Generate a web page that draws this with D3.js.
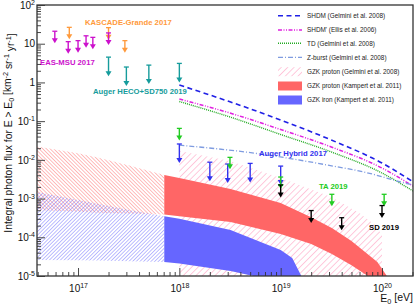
<!DOCTYPE html>
<html>
<head>
<meta charset="utf-8">
<script src="https://cdn.jsdelivr.net/npm/d3@7"></script>
<style>
body { margin: 0; background: #fff; }
text { font-family: "Liberation Sans", Arial, sans-serif; }
</style>
</head>
<body>
<div id="chart"></div>
<script>
// ---- upper limits (energy in eV, flux limit in km^-2 sr^-1 yr^-1)
const easE = [5.9e16, 8e16, 1e17, 1.2e17, 1.4e17, 2e17];
const easF = [21, 11.3, 12, 16, 14.6, 19];
const kgE = [8.2e16, 2e17, 2.9e17];
const kgF = [26.5, 26, 12];
const hecoE = [2e17, 3e17, 5e17, 1e18];
const hecoF = [4.5, 2.5, 2.8, 3.1];
const hybE = [1e18, 2e18, 3e18, 5e18, 1e19];
const hybF = [0.0257, 0.0087, 0.0078, 0.0081, 0.0069];
const taE = [1e18, 3.16e18, 1e19, 3.2e19, 1.05e20];
const taF = [0.065, 0.0116, 0.0036, 0.00129, 0.00129];
const sdE = [1e19, 2e19, 4e19, 1e20];
const sdF = [0.00224, 0.00049, 0.00032, 0.00066];

// ---- model lines
const lineE = [1e18, 3.16e18, 1e19, 3.16e19, 1e20, 2.02e20];
const shdmF = [0.858, 0.316, 0.107, 0.0326, 0.00828, 0.00272];
const shdmEllisF = [0.373, 0.162, 0.0608, 0.0215, 0.00615, 0.0021];
const tdF = [0.321, 0.128, 0.0452, 0.016, 0.00457, 0.00157];
const zbE = [1e18, 5.6e18, 2.85e19, 7.1e19, 1.5e20, 2.02e20];
const zbF = [0.024, 0.0148, 0.0074, 0.00466, 0.00272, 0.00224];

// ---- GZK bands
const gelE = [1e18, 3.16e18, 1e19, 3.16e19, 6e19, 8.5e19, 1e20];
const gelHi = [0.017, 0.0093, 0.0034, 0.0011, 0.00042, 0.00021, 0.000115];
const gelLo = [1e-7, 1e-7, 1e-7, 1e-7, 1e-7, 1e-7, 1e-7];

const kpE = [3.9e16, 1e17, 1.6e17, 3.2e17, 7.1e17, 1e18, 3.2e18, 1e19, 2e19, 3.2e19, 5e19, 7e19, 9e19, 1.1e20, 1.3e20];
const kpHi = [0.0221, 0.0149, 0.0114, 0.00715, 0.00405, 0.0034, 0.00177, 0.00077, 0.00033, 0.000173, 0.00008, 0.000039, 0.000023, 0.0000106, 0.000005];
const kpLo = [0.000506, 0.00046, 0.00043, 0.00041, 0.00039, 0.00035, 0.00025, 0.000121, 0.000067, 0.000037, 0.000019, 0.0000106, 0.000006, 0.000004, 0.000003];

const feE = [3.9e16, 1e17, 1.6e17, 3.2e17, 7.1e17, 1e18, 3.2e18, 1e19, 1.3e19, 1.6e19, 2e19];
const feHi = [0.00148, 0.00092, 0.00072, 0.000506, 0.00035, 0.0003, 0.000154, 0.000047, 0.000029, 0.00001, 0.000005];
const feLo = [0.000026, 0.0000255, 0.000025, 0.000024, 0.000023, 0.000021, 0.0000135, 0.000007, 0.000005, 0.000004, 0.000003];

const solidFrom = 7.1e17; // Kampert bands drawn hatched below this energy

const xTicks = [1e17, 1e18, 1e19, 1e20];
const yTicks = [1e2, 1e1, 1, 1e-1, 1e-2, 1e-3, 1e-4, 1e-5];

const legendLabels = [
    "SHDM (Gelmini et al. 2008)",
    "SHDM' (Ellis et al. 2006)",
    "TD (Gelmini et al. 2008)",
    "Z-burst (Gelmini et al. 2008)",
    "GZK proton (Gelmini et al. 2008)",
    "GZK proton (Kampert et al. 2011)",
    "GZK iron (Kampert et al. 2011)"
];

// ---- layout
let width = 415, height = 306;
let box = { left: 37, right: 413, top: 5, bottom: 276 };

let x = d3.scaleLog().domain([3.936e16, 2.023e20]).range([box.left, box.right]);
let y = d3.scaleLog().domain([1e-5, 1e2]).range([box.bottom, box.top]);

let svg = d3.select('#chart').append('svg')
    .attr('width', width)
    .attr('height', height);

let defs = svg.append('defs');
defs.append('clipPath').attr('id', 'plot-clip')
    .append('rect')
    .attr('x', box.left).attr('y', box.top)
    .attr('width', box.right - box.left).attr('height', box.bottom - box.top);

function hatch(id, color, gap, angle, sw) {
    defs.append('pattern')
        .attr('id', id)
        .attr('patternUnits', 'userSpaceOnUse')
        .attr('width', gap).attr('height', gap)
        .attr('patternTransform', 'rotate(' + angle + ')')
        .append('line')
        .attr('x1', 0).attr('y1', 0).attr('x2', 0).attr('y2', gap)
        .attr('stroke', color).attr('stroke-width', sw);
}
hatch('h-pink', '#ff9ec0', 4.5, 45, 1.1);
hatch('h-red', '#ff6a6a', 2.6, -45, 0.9);
hatch('h-blue', '#6a6aff', 2.6, 45, 0.9);

let plot = svg.append('g').attr('clip-path', 'url(#plot-clip)');

function band(E, lo, hi) {
    return E.map(function (e, i) { return { e: e, lo: lo[i], hi: hi[i] }; });
}
let area = d3.area()
    .x(function (d) { return x(d.e); })
    .y0(function (d) { return y(d.lo); })
    .y1(function (d) { return y(d.hi); });

// GZK proton (Gelmini) hatched band
plot.append('path')
    .datum(band(gelE, gelLo, gelHi))
    .attr('fill', 'url(#h-pink)')
    .attr('d', area);

// Kampert bands: hatched part then solid part
let kp = band(kpE, kpLo, kpHi);
let fe = band(feE, feLo, feHi);
plot.append('path').datum(kp.filter(function (d) { return d.e <= solidFrom; }))
    .attr('fill', 'url(#h-red)').attr('d', area);
plot.append('path').datum(fe.filter(function (d) { return d.e <= solidFrom; }))
    .attr('fill', 'url(#h-blue)').attr('d', area);
plot.append('path').datum(kp.filter(function (d) { return d.e >= solidFrom; }))
    .attr('fill', '#ff6666').attr('d', area);
plot.append('path').datum(fe.filter(function (d) { return d.e >= solidFrom; }))
    .attr('fill', '#6666ff').attr('d', area);

// model lines
let line = d3.line()
    .x(function (d) { return x(d[0]); })
    .y(function (d) { return y(d[1]); })
    .curve(d3.curveMonotoneX);

let models = [
    { E: lineE, F: shdmF, color: '#2020e6', dash: '5,3.5', w: 1.6 },
    { E: lineE, F: shdmEllisF, color: '#e020e0', dash: '4,1.5,1,1.5,1,1.5', w: 1.5 },
    { E: lineE, F: tdF, color: '#22aa22', dash: '1,1', w: 1.4 },
    { E: zbE, F: zbF, color: '#7f9ce0', dash: '5,2,1,2', w: 1.3 }
];
models.forEach(function (m) {
    plot.append('path')
        .datum(m.E.map(function (e, i) { return [e, m.F[i]]; }))
        .attr('fill', 'none')
        .attr('stroke', m.color)
        .attr('stroke-width', m.w)
        .attr('stroke-dasharray', m.dash)
        .attr('d', line);
});

// upper limit arrows
let limits = [
    { E: kgE, F: kgF, color: '#ff9a3c', len: 12 },
    { E: easE, F: easF, color: '#cc11cc', len: 12 },
    { E: hecoE, F: hecoF, color: '#169c9c', len: 19 },
    { E: hybE, F: hybF, color: '#3232ee', len: 19 },
    { E: taE, F: taF, color: '#22cc22', len: 12 },
    { E: sdE, F: sdF, color: '#000000', len: 12.5 }
];
limits.forEach(function (s) {
    let g = svg.append('g').attr('stroke', s.color).attr('fill', s.color);
    s.E.forEach(function (e, i) {
        let px = x(e), py = y(s.F[i]);
        g.append('line').attr('x1', px - 2.5).attr('x2', px + 2.5)
            .attr('y1', py).attr('y2', py).attr('stroke-width', 1.3);
        g.append('line').attr('x1', px).attr('x2', px)
            .attr('y1', py).attr('y2', py + s.len - 4).attr('stroke-width', 1.4);
        g.append('path').attr('stroke', 'none')
            .attr('d', 'M' + (px - 3) + ',' + (py + s.len - 5) + 'L' + (px + 3) + ',' + (py + s.len - 5) +
                'L' + px + ',' + (py + s.len) + 'Z');
    });
});

// experiment labels
let tags = [
    { t: 'KASCADE-Grande 2017', x: 85, y: 25, c: '#ff9a3c' },
    { t: 'EAS-MSU 2017', x: 40, y: 65, c: '#cc11cc' },
    { t: 'Auger HECO+SD750 2019', x: 93, y: 94, c: '#169c9c' },
    { t: 'Auger Hybrid 2017', x: 259, y: 155.5, c: '#3232ee' },
    { t: 'TA 2019', x: 319, y: 188.5, c: '#22cc22' },
    { t: 'SD 2019', x: 369, y: 229.5, c: '#000000' }
];
svg.append('g').selectAll('text').data(tags).enter().append('text')
    .attr('x', function (d) { return d.x; })
    .attr('y', function (d) { return d.y; })
    .attr('fill', function (d) { return d.c; })
    .attr('font-size', 7.7)
    .attr('font-weight', 'bold')
    .text(function (d) { return d.t; });

// axes
function powLabel(v) {
    let t = d3.select(this), e = Math.round(Math.log10(v));
    t.text(null);
    if (e === 0) { t.text('1'); return; }
    if (e === 1) { t.text('10'); return; }
    t.append('tspan').text('10');
    t.append('tspan').attr('dy', '-0.5em').attr('font-size', '70%').text(e);
}

function minors(lo, hi) {
    let out = [];
    for (let p = lo; p < hi; p++) {
        for (let k = 2; k < 10; k++) out.push(k * Math.pow(10, p));
    }
    return out;
}
let xMinor = minors(16, 21).filter(function (v) { return v > x.domain()[0] && v < x.domain()[1]; });
let yMinor = minors(-5, 2);

let gx = svg.append('g').attr('transform', 'translate(0,' + box.bottom + ')');
gx.append('g').call(d3.axisBottom(x).tickValues(xMinor).tickSize(-4).tickFormat(''));
gx.append('g').call(d3.axisBottom(x).tickValues(xTicks).tickSize(-8).tickPadding(8.5))
    .selectAll('text').each(powLabel);

let gy = svg.append('g').attr('transform', 'translate(' + box.left + ',0)');
gy.append('g').call(d3.axisLeft(y).tickValues(yMinor).tickSize(-4).tickFormat(''));
gy.append('g').call(d3.axisLeft(y).tickValues(yTicks).tickSize(-8).tickPadding(2))
    .selectAll('text').each(powLabel);

svg.selectAll('.domain').remove();
svg.selectAll('.tick line').attr('stroke', '#333').attr('stroke-width', 0.9);
svg.selectAll('.tick text').attr('font-size', 10).attr('fill', '#111');

// frame
svg.append('rect')
    .attr('x', box.left).attr('y', box.top)
    .attr('width', box.right - box.left).attr('height', box.bottom - box.top)
    .attr('fill', 'none').attr('stroke', '#333').attr('stroke-width', 1.3);

// axis titles
let yt = svg.append('text')
    .attr('transform', 'translate(12,133) rotate(-90)')
    .attr('text-anchor', 'middle')
    .attr('font-size', 10.3)
    .attr('fill', '#111');
yt.append('tspan').text('Integral photon flux for E > E');
yt.append('tspan').attr('dy', '0.3em').attr('font-size', '70%').text('0');
yt.append('tspan').attr('dy', '-0.3em').text(' [km');
yt.append('tspan').attr('dy', '-0.45em').attr('font-size', '70%').text('-2');
yt.append('tspan').attr('dy', '0.45em').text(' sr');
yt.append('tspan').attr('dy', '-0.45em').attr('font-size', '70%').text('-1');
yt.append('tspan').attr('dy', '0.45em').text(' yr');
yt.append('tspan').attr('dy', '-0.45em').attr('font-size', '70%').text('-1');
yt.append('tspan').attr('dy', '0.45em').text(']');

let xt = svg.append('text')
    .attr('x', box.right).attr('y', 302)
    .attr('text-anchor', 'end')
    .attr('font-size', 10.5)
    .attr('fill', '#111');
xt.append('tspan').text('E');
xt.append('tspan').attr('dy', '0.3em').attr('font-size', '70%').text('0');
xt.append('tspan').attr('dy', '-0.3em').text(' [eV]');

// legend
let leg = svg.append('g').attr('transform', 'translate(278,0)');
let legY = [15.7, 30, 43.3, 57.3, 71.7, 86, 100];
models.forEach(function (m, i) {
    leg.append('line')
        .attr('x1', 0).attr('x2', 24)
        .attr('y1', legY[i]).attr('y2', legY[i])
        .attr('stroke', m.color).attr('stroke-width', m.w)
        .attr('stroke-dasharray', m.dash);
});
let legFill = ['url(#h-pink)', '#ff6666', '#6666ff'];
legFill.forEach(function (f, i) {
    leg.append('rect')
        .attr('x', 0).attr('y', legY[i + 4] - 4.5)
        .attr('width', 24).attr('height', 9)
        .attr('fill', f);
});
leg.selectAll('text.lab').data(legendLabels).enter().append('text')
    .attr('class', 'lab')
    .attr('x', 29)
    .attr('y', function (d, i) { return legY[i] + 2.3; })
    .attr('font-size', 6.4)
    .attr('fill', '#222')
    .text(function (d) { return d; });
</script>
</body>
</html>
